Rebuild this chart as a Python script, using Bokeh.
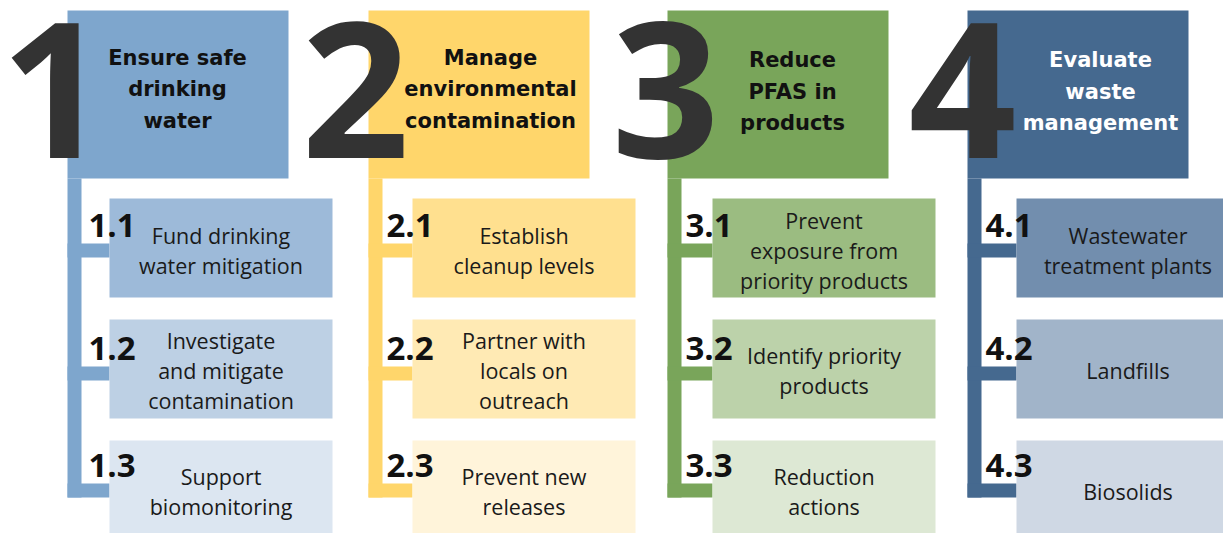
from bokeh.plotting import figure
from bokeh.models import Range1d
from bokeh.core.properties import value
from bokeh.embed import file_html
from bokeh.resources import INLINE

# ---- content ----
numbers = ["1", "2", "3", "4"]
headers = [
    ["Ensure safe", "drinking", "water"],
    ["Manage", "environmental", "contamination"],
    ["Reduce", "PFAS in", "products"],
    ["Evaluate", "waste", "management"],
]
sub_labels = [
    ["1.1", "1.2", "1.3"],
    ["2.1", "2.2", "2.3"],
    ["3.1", "3.2", "3.3"],
    ["4.1", "4.2", "4.3"],
]
sub_texts = [
    [["Fund drinking", "water mitigation"], ["Investigate", "and mitigate", "contamination"], ["Support", "biomonitoring"]],
    [["Establish", "cleanup levels"], ["Partner with", "locals on", "outreach"], ["Prevent new", "releases"]],
    [["Prevent", "exposure from", "priority products"], ["Identify priority", "products"], ["Reduction", "actions"]],
    [["Wastewater", "treatment plants"], ["Landfills"], ["Biosolids"]],
]
header_colors = ["#7ea6cd", "#ffd66b", "#79a55a", "#45698f"]
sub_colors = [
    ["#9dbad9", "#bdd0e4", "#dce6f1"],
    ["#ffe08f", "#ffeab4", "#fff4da"],
    ["#9bbc81", "#bcd2aa", "#dde8d4"],
    ["#728eae", "#a1b4c9", "#cfd8e4"],
]
header_text_colors = ["#111111", "#111111", "#111111", "#ffffff"]

# ---- layout (pixels) ----
W, H = 1223, 533
col_left = [67, 368, 667, 967]
sub_left = [109, 412, 712, 1016]
header_text_x = [177, 490, 792, 1100]
header_first_baseline = [65, 65, 67.5, 67.5]
number_x = [54, 355, 665, 962]
label_x = [88, 386, 685, 985]
HEADER_TOP, HEADER_BOTTOM, HEADER_W = 10, 178, 221
STEM_W, STEM_BOTTOM = 14, 497
SUB_W = 223
sub_top = [198, 319, 440]
sub_bottom = [297, 418, 533]
conn_top = [243, 366, 483]
label_baseline = [237, 360, 477]
text_mid_baseline = [258, 378, 499]
BASE_SHIFT = 0.37  # baseline correction, in em

NUM_SIZE, HEAD_SIZE, LABEL_SIZE, SUB_SIZE = 189, 21, 33, 21.5

p = figure(width=W, height=H, x_range=Range1d(0, W), y_range=Range1d(H, 0),
           output_backend="svg", toolbar_location=None, min_border=0)
p.axis.visible = False
p.grid.visible = False
p.outline_line_color = None
p.background_fill_color = "white"
p.border_fill_color = "white"

# header boxes, stems, connectors
hl, hr, ht, hb, hc = [], [], [], [], []
for i in range(4):
    hl.append(col_left[i]); hr.append(col_left[i] + HEADER_W)
    ht.append(HEADER_TOP); hb.append(HEADER_BOTTOM); hc.append(header_colors[i])
    hl.append(col_left[i]); hr.append(col_left[i] + STEM_W)
    ht.append(HEADER_BOTTOM); hb.append(STEM_BOTTOM); hc.append(header_colors[i])
    for j in range(3):
        hl.append(col_left[i]); hr.append(sub_left[i])
        ht.append(conn_top[j]); hb.append(conn_top[j] + STEM_W); hc.append(header_colors[i])
p.quad(left=hl, right=hr, top=ht, bottom=hb, fill_color=hc, line_color=None)

# sub boxes
sl, sr, st, sb, sc = [], [], [], [], []
for i in range(4):
    for j in range(3):
        sl.append(sub_left[i]); sr.append(sub_left[i] + SUB_W)
        st.append(sub_top[j]); sb.append(sub_bottom[j])
        sc.append(sub_colors[i][j])
p.quad(left=sl, right=sr, top=st, bottom=sb, fill_color=sc, line_color=None)

# big numbers
p.text(x=number_x, y=[160 - BASE_SHIFT * NUM_SIZE] * 4, text=numbers, text_align="center",
       text_baseline="alphabetic", text_font=value("Open Sans"), text_font_style="bold",
       text_font_size=f"{NUM_SIZE}px", text_color="#333333", text_line_height=0.8)

# header texts
tx, ty, tt, tc = [], [], [], []
for i in range(4):
    for k, line in enumerate(headers[i]):
        tx.append(header_text_x[i])
        ty.append(header_first_baseline[i] + 31.5 * k - BASE_SHIFT * HEAD_SIZE)
        tt.append(line); tc.append(header_text_colors[i])
p.text(x=tx, y=ty, text=tt, text_color=tc, text_align="center", text_baseline="alphabetic",
       text_font=value("DejaVu Sans"), text_font_style="bold", text_font_size=f"{HEAD_SIZE}px")

# sub labels
lx, ly, lt = [], [], []
for i in range(4):
    for j in range(3):
        lx.append(label_x[i])
        ly.append(label_baseline[j] - BASE_SHIFT * LABEL_SIZE)
        lt.append(sub_labels[i][j])
p.text(x=lx, y=ly, text=lt, text_align="left", text_baseline="alphabetic",
       text_font=value("Open Sans"), text_font_style="bold", text_font_size=f"{LABEL_SIZE}px",
       text_color="#111111")

# sub texts
ux, uy, ut = [], [], []
for i in range(4):
    for j in range(3):
        lines = sub_texts[i][j]
        n = len(lines)
        for k, line in enumerate(lines):
            ux.append(sub_left[i] + SUB_W / 2)
            uy.append(text_mid_baseline[j] + 30 * (k - (n - 1) / 2) - BASE_SHIFT * SUB_SIZE)
            ut.append(line)
p.text(x=ux, y=uy, text=ut, text_align="center", text_baseline="alphabetic",
       text_font=value("Open Sans"), text_font_size=f"{SUB_SIZE}px", text_color="#1a1a1a")

open("out.html", "w").write(file_html(p, INLINE))
